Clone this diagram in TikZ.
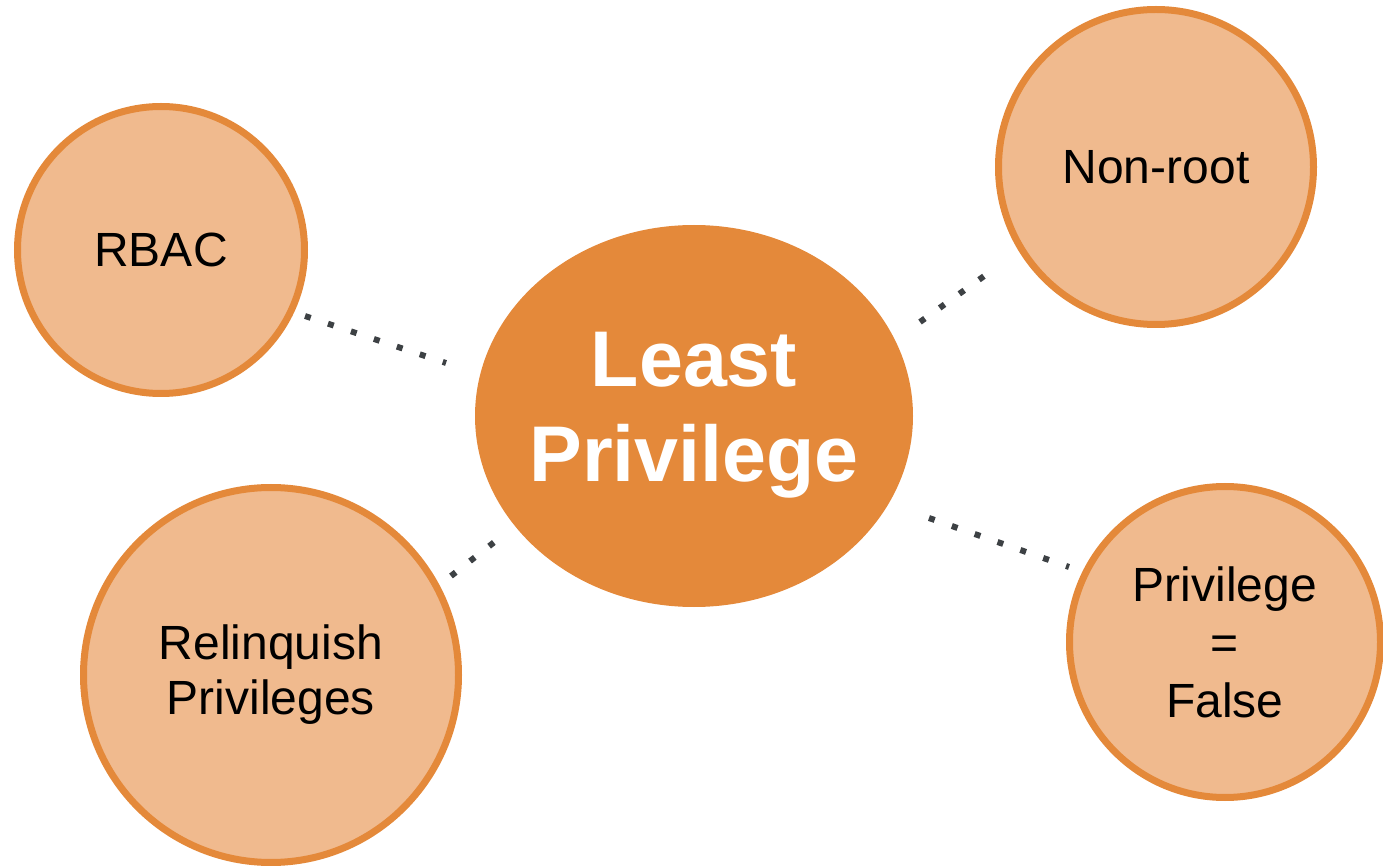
\documentclass[tikz,border=0pt]{standalone}
\usepackage{fontspec}
\setmainfont{Liberation Sans}
\definecolor{ringorange}{HTML}{E4893A}
\definecolor{softorange}{HTML}{F0BA8E}
\definecolor{dotgrey}{HTML}{3D4144}
\tikzset{
  bubble/.style={circle, draw=ringorange, line width=3.5pt, fill=softorange,
    inner sep=0pt, align=center, font=\fontsize{24}{27.5}\selectfont, text=black},
  hubtext/.style={inner sep=0pt, align=center, text=white,
    font=\fontsize{39.5}{47.5}\selectfont\bfseries},
  dotlink/.style={draw=dotgrey, line width=3pt, line cap=butt,
    dash pattern=on 3pt off 9.1pt}
}
\begin{document}
\begin{tikzpicture}[x=0.5pt,y=-0.5pt]
  \useasboundingbox (0,0) rectangle (1383,866);
  % central idea: filled ellipse with its title
  \fill[ringorange] (694,416) ellipse [x radius=109.5pt, y radius=95.5pt];
  \node[hubtext] (lp) at (694,415) {Least\\Privilege};
  % satellite ideas
  \node[bubble, minimum size=143.5pt] (rbac) at (161,250) {RBAC};
  \node[bubble, minimum size=157.5pt] (nonroot) at (1156,167) {Non-root};
  \node[bubble, minimum size=187.5pt] (relinq) at (271,675) {Relinquish\\Privileges};
  \node[bubble, minimum size=155.5pt, font=\fontsize{24}{29}\selectfont] (pfalse) at (1225,642) {Privilege\\=\\False};
  % dotted links between the ideas
  \coordinate (rbacA) at (305,316);   \coordinate (rbacB) at (446,363);
  \coordinate (nonA)  at (920,322);   \coordinate (nonB)  at (987,274);
  \coordinate (relA)  at (451,576);   \coordinate (relB)  at (497,540);
  \coordinate (pfA)   at (929,518);   \coordinate (pfB)   at (1069,567);
  \draw[dotlink] (rbacA) -- (rbacB);
  \draw[dotlink] (nonA) -- (nonB);
  \draw[dotlink] (relA) -- (relB);
  \draw[dotlink] (pfA) -- (pfB);
\end{tikzpicture}
\end{document}
